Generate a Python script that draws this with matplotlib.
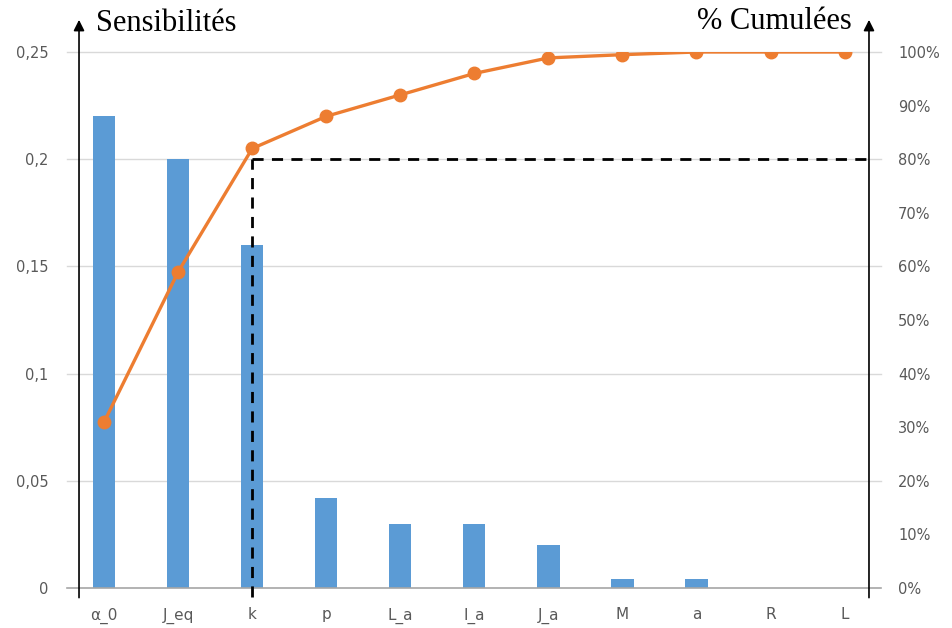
import matplotlib.pyplot as plt
from matplotlib.ticker import FuncFormatter

# Data
categories = ["α_0", "J_eq", "k", "p", "L_a", "I_a", "J_a", "M", "a", "R", "L"]
sensibilites = [0.22, 0.20, 0.16, 0.042, 0.03, 0.03, 0.02, 0.004, 0.004, 0.0, 0.0]
cumulees = [31, 59, 82, 88, 92, 96, 98.9, 99.5, 100, 100, 100]
seuil = 80
left_ticks = [0, 0.05, 0.1, 0.15, 0.2, 0.25]
right_ticks = [0, 10, 20, 30, 40, 50, 60, 70, 80, 90, 100]

fig = plt.figure(figsize=(9.52, 6.28), dpi=100)
ax = fig.add_axes([0.083, 0.0637, 0.8298, 0.8535])
ax2 = ax.twinx()

x = list(range(len(categories)))
ax.bar(x, sensibilites, width=0.3, color="#5B9BD5", zorder=2)

ax.set_xlim(-0.34, len(categories) - 1 + 0.33)
ax.set_ylim(0, 0.25)
ax2.set_ylim(0, 100)

# gridlines (slightly beyond the axes, like the reference)
for t in left_ticks[1:]:
    ax.plot([-0.015, 1.015], [t, t], transform=ax.get_yaxis_transform(),
            color="#D9D9D9", lw=1, clip_on=False, zorder=0)
ax.plot([-0.015, 1.015], [0, 0], transform=ax.get_yaxis_transform(),
        color="#A6A6A6", lw=1.2, clip_on=False, zorder=3)

for a in (ax, ax2):
    for s in a.spines.values():
        s.set_visible(False)

# axes with arrows
for xa in (0, 1):
    ax.annotate("", xy=(xa, 1.06), xytext=(xa, -0.018), xycoords="axes fraction",
                textcoords="axes fraction",
                arrowprops=dict(arrowstyle="-|>", color="black", lw=1.2,
                                mutation_scale=16, shrinkA=0, shrinkB=0))

ax.set_xticks(x)
ax.set_xticklabels(categories)
ax.tick_params(axis="x", length=0, pad=14, labelsize=11, labelcolor="#595959")
ax.set_yticks(left_ticks)
ax.yaxis.set_major_formatter(FuncFormatter(lambda v, p: ("%g" % v).replace(".", ",")))
ax.tick_params(axis="y", length=0, pad=22, labelsize=10.5, labelcolor="#595959")
ax2.set_yticks(right_ticks)
ax2.yaxis.set_major_formatter(FuncFormatter(lambda v, p: "%d%%" % v))
ax2.tick_params(axis="y", length=0, pad=21, labelsize=10.5, labelcolor="#595959")

# cumulative line
ax2.plot(x, cumulees, color="#ED7D31", lw=2.4, marker="o", markersize=9, zorder=4)

# 80% threshold
k_idx = 2
ax2.plot([k_idx, len(categories) - 1 + 0.33], [seuil, seuil], color="black",
         lw=2, linestyle=(0, (4, 3)), zorder=5, clip_on=False)
ax2.plot([k_idx, k_idx], [-1.7, seuil], color="black",
         lw=2, linestyle=(0, (4, 3)), zorder=5, clip_on=False)

fig.text(0.101, 0.962, "Sensibilités", fontsize=22, family="Liberation Serif", va="center")
fig.text(0.895, 0.965, "% Cumulées", fontsize=22, family="Liberation Serif",
         va="center", ha="right")

fig.savefig("out.png", dpi=100)
